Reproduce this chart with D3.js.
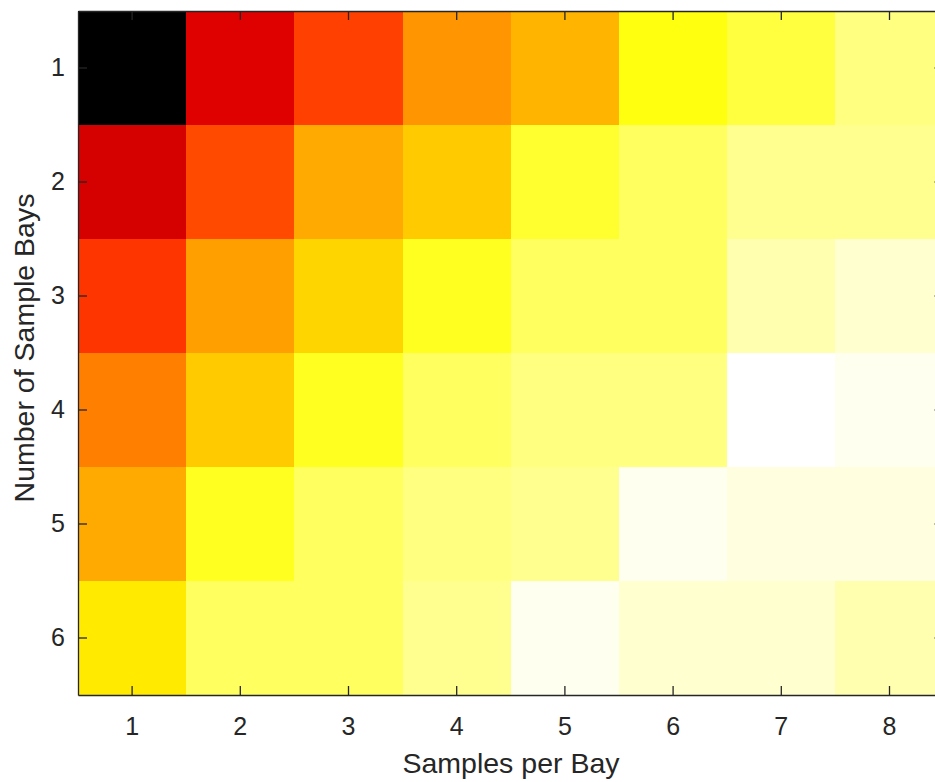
<!DOCTYPE html>
<html>
<head>
<meta charset="utf-8">
<script src="https://cdn.jsdelivr.net/npm/d3@7"></script>
<style>
  html, body { margin: 0; padding: 0; background: #fff; overflow: hidden; }
  svg { display: block; }
  text { font-family: "Liberation Sans", Arial, Helvetica, sans-serif; fill: #262626; }
</style>
</head>
<body>
<div id="chart"></div>
<script>
// ---- data ----
const samplesPerBay = [1, 2, 3, 4, 5, 6, 7, 8];          // x categories
const sampleBays = [1, 2, 3, 4, 5, 6];                    // y categories
// normalized values (0 = darkest, 1 = white), one array per row
const bays1 = [0.00, 0.32, 0.46, 0.58, 0.63, 0.75, 0.81, 0.87];
const bays2 = [0.30, 0.48, 0.62, 0.67, 0.79, 0.84, 0.89, 0.89];
const bays3 = [0.44, 0.60, 0.68, 0.78, 0.84, 0.84, 0.92, 0.94];
const bays4 = [0.56, 0.67, 0.78, 0.84, 0.86, 0.87, 1.00, 0.97];
const bays5 = [0.62, 0.78, 0.84, 0.87, 0.89, 0.98, 0.96, 0.96];
const bays6 = [0.71, 0.83, 0.84, 0.89, 0.98, 0.95, 0.94, 0.91];
const rows = [bays1, bays2, bays3, bays4, bays5, bays6];
const xTickLabels = ["1", "2", "3", "4", "5", "6", "7", "8"];
const yTickLabels = ["1", "2", "3", "4", "5", "6"];
const xTitle = "Samples per Bay";
const yTitle = "Number of Sample Bays";

// ---- MATLAB "hot" colormap, 64 levels ----
function hotColormap(m) {
  const n = Math.floor(3 / 8 * m);
  const out = [];
  for (let i = 1; i <= m; i++) {
    const r = i <= n ? i / n : 1;
    const g = i <= n ? 0 : (i <= 2 * n ? (i - n) / n : 1);
    const b = i <= 2 * n ? 0 : (i - 2 * n) / (m - 2 * n);
    out.push(d3.rgb(Math.round(r * 255), Math.round(g * 255), Math.round(b * 255)).toString());
  }
  return out;
}
const hot = hotColormap(64);
hot[0] = "#000000";
const color = d3.scaleQuantize().domain([0, 1]).range(hot);

// ---- layout ----
const W = 935, H = 782;
const mLeft = 78, mTop = 11, plotW = 865.6, plotH = 684;

const svg = d3.select("#chart").append("svg").attr("width", W).attr("height", H);

const x = d3.scaleBand().domain(samplesPerBay).range([mLeft, mLeft + plotW]).paddingInner(0).paddingOuter(0);
const y = d3.scaleBand().domain(sampleBays).range([mTop, mTop + plotH]).paddingInner(0).paddingOuter(0);

const cells = [];
rows.forEach((row, ri) => row.forEach((v, ci) => cells.push({ xb: samplesPerBay[ci], yb: sampleBays[ri], v })));

svg.append("g").selectAll("rect").data(cells).join("rect")
  .attr("x", d => x(d.xb))
  .attr("y", d => y(d.yb))
  .attr("width", x.bandwidth() + 0.5)
  .attr("height", y.bandwidth() + 0.5)
  .attr("fill", d => color(d.v))
  .attr("shape-rendering", "crispEdges");

const axisColor = "#262626";
const fs = 25;

function styleAxis(g) {
  g.selectAll("path.domain").attr("stroke", axisColor).attr("stroke-width", 1.3);
  g.selectAll(".tick line").attr("stroke", axisColor).attr("stroke-width", 1.3);
  g.selectAll(".tick text").attr("fill", axisColor).style("font-size", fs + "px")
    .style("font-family", '"Liberation Sans", Arial, sans-serif');
}

// bottom axis
svg.append("g").attr("transform", `translate(0,${mTop + plotH})`)
  .call(d3.axisBottom(x).tickFormat((d, i) => xTickLabels[i]).tickSizeInner(-9).tickSizeOuter(0).tickPadding(22))
  .call(styleAxis);
// top axis (mirror ticks, no labels)
svg.append("g").attr("transform", `translate(0,${mTop})`)
  .call(d3.axisTop(x).tickFormat("").tickSizeInner(-9).tickSizeOuter(0))
  .call(styleAxis);
// left axis
svg.append("g").attr("transform", `translate(${mLeft},0)`)
  .call(d3.axisLeft(y).tickFormat((d, i) => yTickLabels[i]).tickSizeInner(-9).tickSizeOuter(0).tickPadding(13))
  .call(styleAxis);
// right axis (mirror ticks)
svg.append("g").attr("transform", `translate(${mLeft + plotW},0)`)
  .call(d3.axisRight(y).tickFormat("").tickSizeInner(-9).tickSizeOuter(0))
  .call(styleAxis);

// axis titles
svg.append("text")
  .attr("x", 511)
  .attr("y", 773)
  .attr("text-anchor", "middle")
  .style("font-size", "28.5px")
  .text(xTitle);

svg.append("text")
  .attr("transform", `translate(34,348) rotate(-90)`)
  .attr("text-anchor", "middle")
  .style("font-size", "28.5px")
  .text(yTitle);
</script>
</body>
</html>
